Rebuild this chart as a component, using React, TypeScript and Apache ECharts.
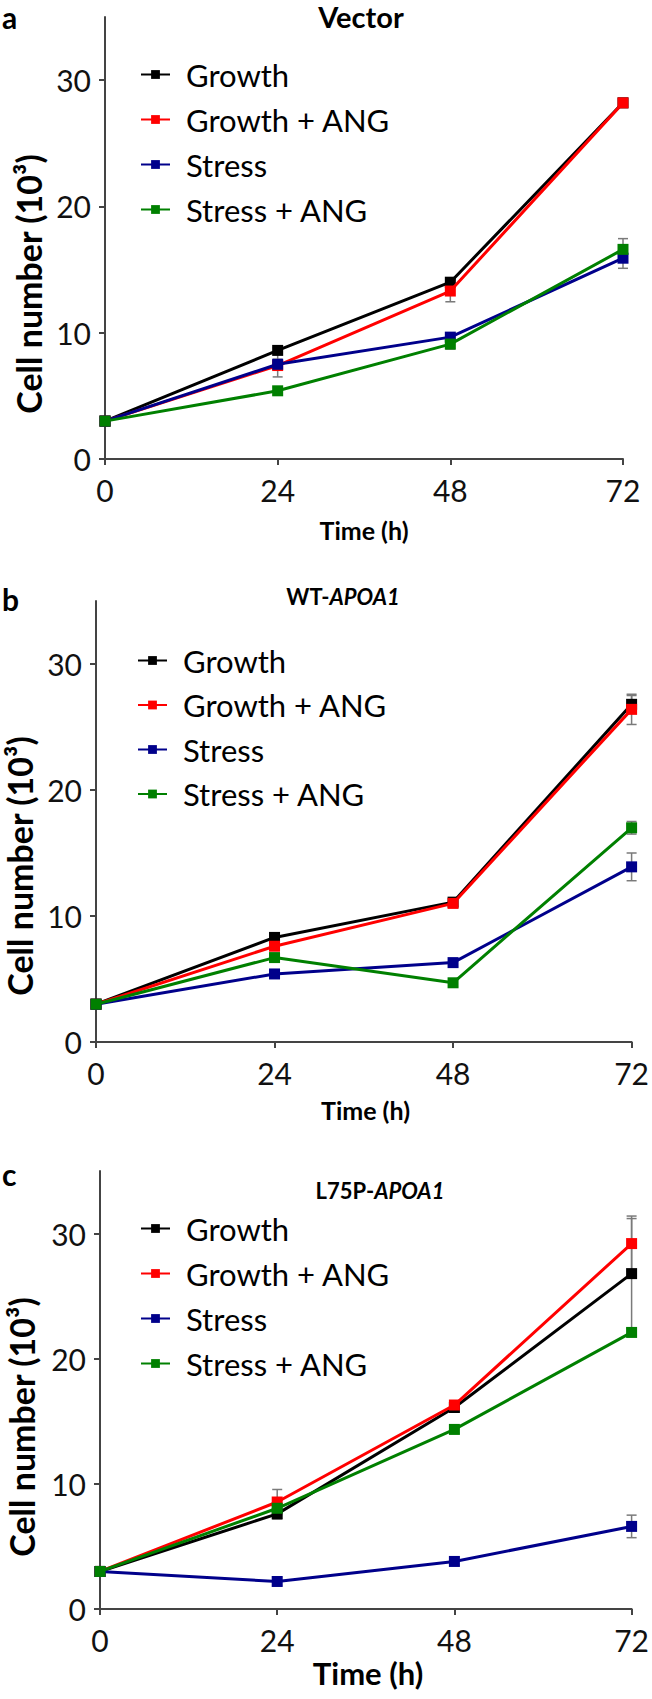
import React, { useEffect, useRef } from 'react';
import * as echarts from 'echarts';

const FONT = 'Lato';

const timePoints = [0, 24, 48, 72];
const xTicks = [0, 24, 48, 72];
const yTicks = [0, 10, 20, 30];
const seriesNames = ['Growth', 'Growth + ANG', 'Stress', 'Stress + ANG'];
const seriesColors = ['#000000', '#ff0000', '#00008b', '#008000'];

// Panel a: Vector (cell number, 10^3)
const vectorGrowth = [3.0, 8.6, 14.0, 28.2];
const vectorGrowthAng = [3.0, 7.4, 13.3, 28.2];
const vectorStress = [3.0, 7.5, 9.65, 15.9];
const vectorStressAng = [3.0, 5.4, 9.1, 16.6];
const vectorGrowthErr = [0, 0.2, 0.2, 0.3];
const vectorGrowthAngErr = [0, 0.9, 0.85, 0.35];
const vectorStressErr = [0, 0.4, 0.3, 0.8];
const vectorStressAngErr = [0, 0.3, 0.4, 0.85];

// Panel b: WT-APOA1
const wtGrowth = [3.0, 8.3, 11.1, 26.8];
const wtGrowthAng = [3.0, 7.6, 11.0, 26.4];
const wtStress = [3.0, 5.4, 6.3, 13.9];
const wtStressAng = [3.0, 6.7, 4.7, 17.0];
const wtGrowthErr = [0, 0.3, 0.3, 0.7];
const wtGrowthAngErr = [0, 0.3, 0.3, 1.2];
const wtStressErr = [0, 0.3, 0.3, 1.1];
const wtStressAngErr = [0, 0.3, 0.3, 0.5];

// Panel c: L75P-APOA1
const mutGrowth = [3.0, 7.6, 16.1, 26.8];
const mutGrowthAng = [3.0, 8.55, 16.3, 29.2];
const mutStress = [3.0, 2.2, 3.8, 6.6];
const mutStressAng = [3.0, 8.05, 14.35, 22.1];
const mutGrowthErr = [0, 0.4, 0.3, 4.4];
const mutGrowthAngErr = [0, 1.0, 0.3, 2.2];
const mutStressErr = [0, 0.3, 0.3, 0.9];
const mutStressAngErr = [0, 0.3, 0.3, 0.3];

const panels = [
  {
    letter: 'a',
    title: '{n|Vector}',
    titleSize: 29,
    values: [vectorGrowth, vectorGrowthAng, vectorStress, vectorStressAng],
    errors: [vectorGrowthErr, vectorGrowthAngErr, vectorStressErr, vectorStressAngErr],
    layout: {
      left: 105, right: 29, top: 17, height: 442,
      letterTop: 2, titleX: 361, titleY: 16,
      yNameX: 28, yNameY: 284, xNameY: 530, xNameSize: 25,
      legendLeft: 135, legendTop: 54, legendGap: 14,
    },
  },
  {
    letter: 'b',
    title: '{n|WT-}{i|APOA1}',
    titleSize: 22,
    values: [wtGrowth, wtGrowthAng, wtStress, wtStressAng],
    errors: [wtGrowthErr, wtGrowthAngErr, wtStressErr, wtStressAngErr],
    layout: {
      left: 96, right: 17, top: 601, height: 441,
      letterTop: 584, titleX: 343, titleY: 596,
      yNameX: 19, yNameY: 866, xNameY: 1110, xNameSize: 25,
      legendLeft: 132, legendTop: 640, legendGap: 13.5,
    },
  },
  {
    letter: 'c',
    title: '{n|L75P-}{i|APOA1}',
    titleSize: 22,
    values: [mutGrowth, mutGrowthAng, mutStress, mutStressAng],
    errors: [mutGrowthErr, mutGrowthAngErr, mutStressErr, mutStressAngErr],
    layout: {
      left: 100, right: 16, top: 1171, height: 438,
      letterTop: 1159, titleX: 380, titleY: 1190,
      yNameX: 21, yNameY: 1427, xNameY: 1673, xNameSize: 31,
      legendLeft: 135, legendTop: 1208, legendGap: 14,
    },
  },
];

const AXIS_COLOR = '#444444';

function buildOption() {
  const grid: any[] = [];
  const xAxis: any[] = [];
  const yAxis: any[] = [];
  const legend: any[] = [];
  const series: any[] = [];
  const graphic: any[] = [];

  panels.forEach((p, i) => {
    const L = p.layout;
    grid.push({ left: L.left, right: L.right, top: L.top, height: L.height, containLabel: false });
    xAxis.push({
      type: 'value', gridIndex: i, min: 0, max: 72, interval: 24,
      axisLine: { show: true, onZero: false, lineStyle: { color: AXIS_COLOR, width: 2 } },
      axisTick: { show: true, length: 6, inside: false, customValues: xTicks, lineStyle: { color: AXIS_COLOR, width: 2 } },
      axisLabel: { customValues: xTicks, fontFamily: FONT, fontSize: 30, color: '#111', margin: 16 },
      splitLine: { show: false },
    });
    yAxis.push({
      type: 'value', gridIndex: i, min: 0, max: 35, interval: 10,
      axisLine: { show: true, onZero: false, lineStyle: { color: AXIS_COLOR, width: 2 } },
      axisTick: { show: true, length: 6, inside: false, customValues: yTicks, lineStyle: { color: AXIS_COLOR, width: 2 } },
      axisLabel: { customValues: yTicks, fontFamily: FONT, fontSize: 30, color: '#111', margin: 14 },
      splitLine: { show: false },
    });
    legend.push({
      data: seriesNames,
      orient: 'vertical',
      left: L.legendLeft,
      top: L.legendTop,
      itemWidth: 29,
      itemHeight: 11,
      itemGap: L.legendGap,
      selectedMode: false,
      textStyle: { fontFamily: FONT, fontSize: 31, color: '#000', lineHeight: 31, padding: [0, 0, 0, 11] },
    });

    p.values.forEach((vals, j) => {
      const errs = p.errors[j];
      series.push({
        type: 'custom',
        name: seriesNames[j] + ' error',
        xAxisIndex: i,
        yAxisIndex: i,
        z: 2,
        silent: true,
        encode: { x: 0, y: [1, 2] },
        data: timePoints
          .map((t, k) => [t, vals[k] - errs[k], vals[k] + errs[k]])
          .filter((d, k) => errs[k] > 0),
        renderItem: (params: any, api: any) => {
          const x = api.value(0);
          const lo = api.coord([x, api.value(1)]);
          const hi = api.coord([x, api.value(2)]);
          const w = 5;
          const st = { stroke: '#7a7a7a', lineWidth: 1.5 };
          return {
            type: 'group',
            children: [
              { type: 'line', shape: { x1: lo[0], y1: lo[1], x2: hi[0], y2: hi[1] }, style: st },
              { type: 'line', shape: { x1: lo[0] - w, y1: lo[1], x2: lo[0] + w, y2: lo[1] }, style: st },
              { type: 'line', shape: { x1: hi[0] - w, y1: hi[1], x2: hi[0] + w, y2: hi[1] }, style: st },
            ],
          };
        },
      });
      series.push({
        type: 'line',
        name: seriesNames[j],
        xAxisIndex: i,
        yAxisIndex: i,
        z: 3 + j,
        data: timePoints.map((t, k) => [t, vals[k]]),
        symbol: 'rect',
        symbolSize: 11,
        color: seriesColors[j],
        lineStyle: { width: 3, color: seriesColors[j] },
        itemStyle: { color: seriesColors[j] },
      });
    });

    graphic.push({
      type: 'text', left: 2, top: L.letterTop,
      style: { text: p.letter, font: `bold 30px ${FONT}`, fill: '#000' },
    });
    graphic.push({
      type: 'text', x: L.titleX, y: L.titleY,
      style: {
        text: p.title,
        align: 'center', verticalAlign: 'middle',
        textAlign: 'center', textVerticalAlign: 'middle',
        rich: {
          n: { fontFamily: FONT, fontWeight: 'bold', fontSize: p.titleSize, fill: '#000', color: '#000' },
          i: { fontFamily: FONT, fontWeight: 'bold', fontStyle: 'italic', fontSize: p.titleSize, fill: '#000', color: '#000' },
        },
      },
    });
    graphic.push({
      type: 'text', x: L.yNameX, y: L.yNameY, rotation: Math.PI / 2,
      style: {
        text: 'Cell number (10³)', font: `bold 34px ${FONT}`, fill: '#000',
        align: 'center', verticalAlign: 'middle', textAlign: 'center', textVerticalAlign: 'middle',
      },
    });
    graphic.push({
      type: 'text', x: L.left + (652 - L.left - L.right) / 2, y: L.xNameY,
      style: {
        text: 'Time (h)', font: `bold ${L.xNameSize}px ${FONT}`, fill: '#000',
        align: 'center', verticalAlign: 'middle', textAlign: 'center', textVerticalAlign: 'middle',
      },
    });
  });

  return {
    animation: false,
    backgroundColor: '#ffffff',
    textStyle: { fontFamily: FONT },
    grid, xAxis, yAxis, legend, series, graphic,
  };
}

export default function App() {
  const ref = useRef<HTMLDivElement>(null);
  useEffect(() => {
    document.body.style.margin = '0';
    if (!ref.current) return;
    const chart = echarts.init(ref.current, undefined, { renderer: 'svg' });
    chart.setOption(buildOption() as any);
    return () => chart.dispose();
  }, []);
  return <div ref={ref} style={{ width: 652, height: 1699 }} />;
}
